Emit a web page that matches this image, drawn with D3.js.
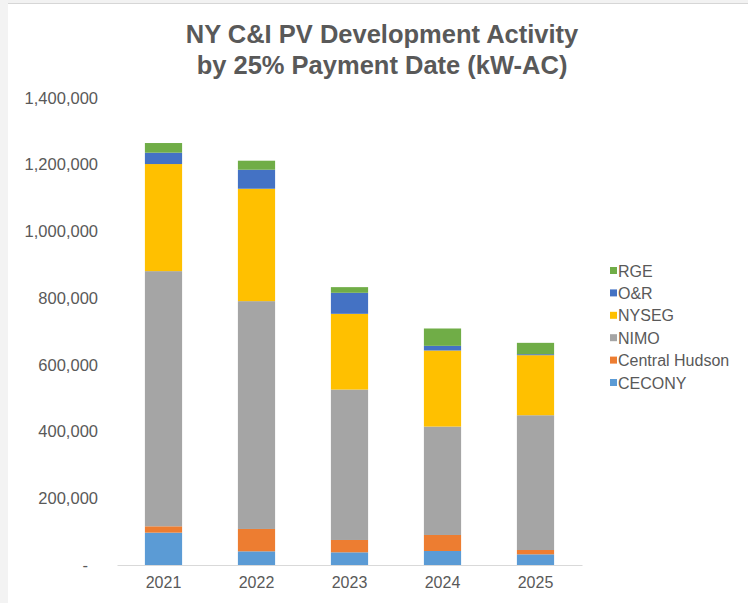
<!DOCTYPE html>
<html>
<head>
<meta charset="utf-8">
<script src="https://cdn.jsdelivr.net/npm/d3@7"></script>
<style>
  body { margin: 0; background: #ffffff; }
  text { font-family: "Liberation Sans", Arial, sans-serif; }
</style>
</head>
<body>
<div id="chart"></div>
<script>

// data
var years = ["2021", "2022", "2023", "2024", "2025"];
var utilities = ["CECONY", "Central Hudson", "NIMO", "NYSEG", "O&R", "RGE"];
var colors = ["#5B9BD5", "#ED7D31", "#A5A5A5", "#FFC000", "#4472C4", "#70AD47"];

var cecony = [97000, 41000, 38000, 42000, 32000];
var centralHudson = [19000, 67000, 37000, 48000, 13000];
var nimo = [765000, 683000, 451000, 325000, 404000];
var nyseg = [321000, 337000, 227000, 228000, 180000];
var oandr = [34000, 57000, 63000, 14000, 3000];
var rge = [29000, 27000, 17000, 52000, 34000];

var yTicks = [0, 200000, 400000, 600000, 800000, 1000000, 1200000, 1400000];

// size
var width = 748;
var height = 603;

var svg = d3
  .select("#chart")
  .append("svg")
  .attr("width", width)
  .attr("height", height);

// light frame like the screenshot
svg.append("rect")
  .attr("x", 0).attr("y", 0)
  .attr("width", width).attr("height", 4)
  .attr("fill", "#f2f2f2");
svg.append("rect")
  .attr("x", 0).attr("y", 0)
  .attr("width", 8).attr("height", height)
  .attr("fill", "#f3f3f3");
svg.append("line")
  .attr("x1", 8).attr("x2", width)
  .attr("y1", 3.5).attr("y2", 3.5)
  .attr("stroke", "#d6d6d6");

// title
var title = svg.append("text")
  .attr("x", 382)
  .attr("y", 43)
  .attr("text-anchor", "middle")
  .attr("font-size", 25.5)
  .attr("font-weight", "bold")
  .attr("fill", "#595959");
title.append("tspan").attr("x", 382).attr("dy", 0).text("NY C&I PV Development Activity");
title.append("tspan").attr("x", 382).attr("dy", 31).text("by 25% Payment Date (kW-AC)");

// build rows for the stack
var series = [cecony, centralHudson, nimo, nyseg, oandr, rge];
var rows = years.map(function(y, i) {
  var row = { year: y };
  utilities.forEach(function(u, j) {
    row[u] = series[j][i];
  });
  return row;
});

var stacked = d3.stack().keys(utilities)(rows);

// scales
var xScale = d3
  .scaleBand()
  .domain(years)
  .range([117, 582])
  .paddingInner(0.6)
  .paddingOuter(0.3);

var yScale = d3
  .scaleLinear()
  .domain([0, 1400000])
  .range([565, 98]);

var color = d3.scaleOrdinal().domain(utilities).range(colors);

// y axis, labels only
var yAxis = d3.axisLeft(yScale)
  .tickValues(yTicks)
  .tickSize(0)
  .tickPadding(0)
  .tickFormat(function(d) { return d === 0 ? "-" : d3.format(",")(d); });

var yG = svg.append("g")
  .attr("transform", "translate(98,0)")
  .call(yAxis);
yG.select(".domain").remove();
yG.selectAll("text")
  .attr("font-size", 16.5)
  .attr("font-family", "Liberation Sans, Arial, sans-serif")
  .attr("fill", "#595959")
  .attr("dx", function(d) { return d === 0 ? -10 : 0; });

// bars
svg.append("g")
  .selectAll("g")
  .data(stacked)
  .enter()
  .append("g")
  .attr("fill", function(d) { return color(d.key); })
  .selectAll("rect")
  .data(function(d) { return d; })
  .enter()
  .append("rect")
  .attr("x", function(d) { return xScale(d.data.year); })
  .attr("y", function(d) { return yScale(d[1]); })
  .attr("height", function(d) { return yScale(d[0]) - yScale(d[1]); })
  .attr("width", xScale.bandwidth());

// x axis
var xAxis = d3.axisBottom(xScale).tickSize(0).tickPadding(12);
var xG = svg.append("g")
  .attr("transform", "translate(0,565)")
  .call(xAxis);
xG.select(".domain")
  .attr("stroke", "#d9d9d9")
  .attr("stroke-width", 1);
xG.selectAll("text")
  .attr("font-size", 16)
  .attr("font-family", "Liberation Sans, Arial, sans-serif")
  .attr("fill", "#595959");

// legend, top item is RGE
var legendKeys = utilities.slice().reverse();
var legend = svg.append("g")
  .attr("transform", "translate(610,271)");

var item = legend.selectAll("g")
  .data(legendKeys)
  .enter()
  .append("g")
  .attr("transform", function(d, i) { return "translate(0," + (i * 22.4) + ")"; });

item.append("rect")
  .attr("x", 0)
  .attr("y", -4)
  .attr("width", 7)
  .attr("height", 7)
  .attr("fill", function(d) { return color(d); });

item.append("text")
  .attr("x", 8)
  .attr("y", 0)
  .attr("dy", "0.35em")
  .attr("font-size", 16)
  .attr("fill", "#595959")
  .text(function(d) { return d; });

</script>
</body>
</html>
